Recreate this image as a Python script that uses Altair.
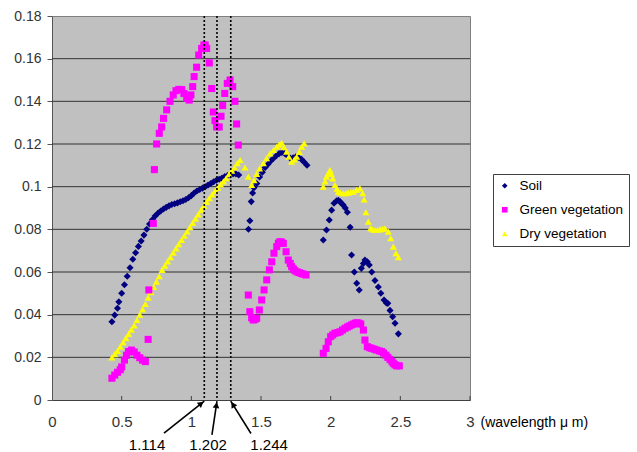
import math
import altair as alt
import pandas as pd

# ---------------- data ----------------
soil_x = [0.43, 0.45, 0.47, 0.48, 0.50, 0.52, 0.54, 0.56, 0.58, 0.60, 0.62, 0.64, 0.66, 0.68, 0.70,
          0.72, 0.74, 0.76, 0.78, 0.80, 0.82, 0.84, 0.86, 0.88, 0.90, 0.92, 0.94, 0.96, 0.98, 1.00,
          1.02, 1.04, 1.06, 1.08, 1.10, 1.12, 1.14, 1.16, 1.18, 1.20, 1.22, 1.24, 1.26, 1.28, 1.30,
          1.32, 1.34,
          1.41, 1.42, 1.43, 1.44, 1.45, 1.47, 1.49, 1.51, 1.53, 1.55, 1.57, 1.59, 1.61, 1.63, 1.65,
          1.67, 1.69, 1.71, 1.73, 1.75, 1.77, 1.79, 1.81, 1.83,
          1.947, 1.97, 1.99, 2.007, 2.024, 2.043, 2.055, 2.067, 2.08, 2.09, 2.105, 2.12, 2.14, 2.15,
          2.17, 2.187, 2.205, 2.22, 2.235, 2.246, 2.263, 2.277, 2.295, 2.318, 2.342, 2.36, 2.383,
          2.40, 2.41, 2.426, 2.445, 2.462, 2.486]
soil_y = [0.0367, 0.0398, 0.043, 0.046, 0.050, 0.054, 0.058, 0.062, 0.066, 0.069, 0.072, 0.0745, 0.0773, 0.080, 0.0825,
          0.0845, 0.0862, 0.0875, 0.0886, 0.0895, 0.0903, 0.091, 0.0916, 0.092, 0.0924, 0.0929, 0.0934, 0.094, 0.0948, 0.0958,
          0.097, 0.098, 0.0987, 0.0993, 0.100, 0.1008, 0.1015, 0.1023, 0.103, 0.1035, 0.104, 0.1047, 0.1052, 0.1055, 0.106,
          0.106, 0.1055,
          0.080, 0.084, 0.093, 0.097, 0.0995, 0.1015, 0.1045, 0.1068, 0.109, 0.1105, 0.112, 0.1133, 0.1145, 0.1155, 0.116,
          0.1156, 0.1145, 0.1133, 0.1135, 0.114, 0.1137, 0.1128, 0.1115, 0.110,
          0.075, 0.0797, 0.0844, 0.089, 0.0922, 0.0934, 0.0936, 0.093, 0.092, 0.0914, 0.090, 0.088, 0.081, 0.068,
          0.060, 0.0547, 0.0516, 0.0617, 0.064, 0.0656, 0.0648, 0.0633, 0.060, 0.056, 0.053, 0.050, 0.0469,
          0.0455, 0.0453, 0.042, 0.039, 0.036, 0.031]

green_x = [0.43, 0.45, 0.47, 0.49, 0.50, 0.52, 0.535, 0.55, 0.57, 0.59, 0.61, 0.63, 0.65, 0.67, 0.69,
           0.695, 0.727, 0.735, 0.751, 0.77, 0.787, 0.80, 0.823, 0.847, 0.87, 0.89, 0.91, 0.93, 0.947,
           0.967, 0.985, 0.997, 1.01, 1.02, 1.038, 1.053, 1.074, 1.09, 1.10, 1.11, 1.129, 1.146, 1.158,
           1.17, 1.182, 1.20, 1.213, 1.225, 1.24, 1.258, 1.278, 1.297, 1.313, 1.325, 1.337,
           1.409, 1.42, 1.433, 1.445, 1.457, 1.469, 1.488, 1.505, 1.522, 1.541, 1.56, 1.577, 1.593,
           1.613, 1.625, 1.636, 1.648, 1.66, 1.68, 1.696, 1.71, 1.72, 1.732, 1.744, 1.76, 1.775, 1.79,
           1.804, 1.823,
           1.947, 1.967, 1.983, 2.00, 2.015, 2.031, 2.05, 2.067, 2.085, 2.103, 2.12, 2.134, 2.15, 2.163,
           2.177, 2.19, 2.203, 2.216, 2.235, 2.246, 2.263, 2.28, 2.295, 2.313, 2.33, 2.35, 2.366, 2.38,
           2.397, 2.41, 2.426, 2.44, 2.45, 2.462, 2.474, 2.493]
green_y = [0.0102, 0.0117, 0.013, 0.0142, 0.0155, 0.0187, 0.021, 0.0227, 0.0234, 0.0225, 0.021, 0.0198, 0.0187, 0.018, 0.0284,
           0.0516, 0.0828, 0.108, 0.120, 0.125, 0.128, 0.132, 0.136, 0.140, 0.143, 0.145, 0.1456, 0.1455, 0.1437,
           0.1414, 0.1406, 0.143, 0.1469, 0.1516, 0.156, 0.1617, 0.1648, 0.1664, 0.1664, 0.1648, 0.158, 0.146, 0.135,
           0.131, 0.128, 0.128, 0.133, 0.138, 0.1437, 0.1484, 0.150, 0.1469, 0.140, 0.1294, 0.1195,
           0.0492, 0.0414, 0.0385, 0.0375, 0.0378, 0.0383, 0.0422, 0.0469, 0.0516, 0.0563, 0.061, 0.0648, 0.0688,
           0.0719, 0.0735, 0.0742, 0.074, 0.0734, 0.0695, 0.0656, 0.064, 0.0625, 0.0615, 0.0606, 0.060, 0.0597, 0.0593,
           0.059, 0.0586,
           0.0219, 0.0242, 0.0273, 0.0297, 0.0305, 0.0313, 0.0316, 0.032, 0.0328, 0.0336, 0.0342, 0.0347, 0.0352, 0.0356,
           0.036, 0.0362, 0.036, 0.0356, 0.0328, 0.0281, 0.025, 0.0245, 0.0242, 0.0238, 0.0234, 0.023, 0.0227, 0.022,
           0.021, 0.020, 0.019, 0.018, 0.0172, 0.0165, 0.016, 0.016]

dry_x = [0.43, 0.45, 0.47, 0.49, 0.51, 0.53, 0.55, 0.57, 0.59, 0.61, 0.63, 0.65, 0.67, 0.69, 0.71,
         0.73, 0.75, 0.77, 0.79, 0.81, 0.83, 0.85, 0.87, 0.89, 0.91, 0.93, 0.95, 0.97, 0.99, 1.01,
         1.03, 1.05, 1.07, 1.09, 1.11, 1.13, 1.15, 1.17, 1.19, 1.21, 1.23, 1.25, 1.27, 1.29, 1.31,
         1.33, 1.35,
         1.385, 1.409, 1.433, 1.45, 1.469, 1.49, 1.517, 1.54, 1.565, 1.59, 1.613, 1.63, 1.648, 1.665,
         1.684, 1.70, 1.72, 1.74, 1.756, 1.775, 1.792, 1.81,
         1.947, 1.96, 1.97, 1.983, 1.995, 2.005, 2.015, 2.031, 2.045, 2.055, 2.07, 2.09, 2.11, 2.127,
         2.145, 2.163, 2.185, 2.21, 2.23, 2.24, 2.253, 2.27, 2.287, 2.30, 2.318, 2.336, 2.354, 2.372,
         2.39, 2.414, 2.431, 2.45, 2.469, 2.486]
dry_y = [0.020, 0.0215, 0.023, 0.025, 0.027, 0.029, 0.031, 0.033, 0.035, 0.0375, 0.040, 0.0425, 0.045, 0.048, 0.0505,
         0.053, 0.0555, 0.058, 0.061, 0.063, 0.065, 0.067, 0.069, 0.071, 0.073, 0.075, 0.077, 0.079, 0.081, 0.083,
         0.085, 0.087, 0.089, 0.091, 0.0928, 0.0946, 0.0964, 0.098, 0.0995, 0.101, 0.1025, 0.104, 0.1058, 0.1075, 0.109,
         0.111, 0.1125,
         0.109, 0.1047, 0.1008, 0.103, 0.106, 0.1085, 0.111, 0.1133, 0.1156, 0.1172, 0.1187, 0.1197, 0.1206, 0.1185,
         0.1164, 0.114, 0.1117, 0.1128, 0.114, 0.1163, 0.1187, 0.1203,
         0.100, 0.1025, 0.1047, 0.1063, 0.1078, 0.106, 0.1039, 0.1008, 0.099, 0.0977, 0.0972, 0.0969, 0.097, 0.0972,
         0.0975, 0.0977, 0.0985, 0.0992, 0.0969, 0.094, 0.088, 0.0836, 0.0805, 0.080, 0.0797, 0.0798, 0.080, 0.0802,
         0.0805, 0.0789, 0.0758, 0.0719, 0.0688, 0.0669]

series_names = ["Soil", "Green vegetation", "Dry vegetation"]
series_colors = ["#000080", "#FF00FF", "#FFFF00"]
series_shapes = ["diamond", "square", "triangle-up"]

x_ticks = [0, 0.5, 1, 1.5, 2, 2.5, 3]
y_ticks = [0, 0.02, 0.04, 0.06, 0.08, 0.1, 0.12, 0.14, 0.16, 0.18]
grid_values = [0.02, 0.04, 0.06, 0.08, 0.1, 0.12, 0.14, 0.16]

# marked wavelengths: dashed line positions as drawn, and their labels
line_x = [1.093, 1.184, 1.283]
line_labels = ["1.114", "1.202", "1.244"]
label_x = [0.682, 1.12, 1.558]
label_y = [-0.0211, -0.0211, -0.0211]
tail_x = [0.804, 1.148, 1.428]
tail_y = [-0.0155, -0.0164, -0.0157]
tip_y = [-0.0005, -0.0005, -0.0005]

# ---------------- chart ----------------
W, H = 418, 384
XMAX, YMAX = 3.0, 0.18
sx, sy = W / XMAX, H / YMAX
FONT = "Liberation Sans"

rows = []
for name, xs, ys in [("Soil", soil_x, soil_y), ("Dry vegetation", dry_x, dry_y),
                     ("Green vegetation", green_x, green_y)]:
    rows += [{"wl": a, "r": b, "series": name} for a, b in zip(xs, ys)]
df = pd.DataFrame(rows)
df["o"] = range(len(df))

x_scale = alt.Scale(domain=[0, XMAX], nice=False, zero=False)
y_scale = alt.Scale(domain=[0, YMAX], nice=False, zero=False)

legend = alt.Legend(title=None, orient="none", legendX=441, legendY=158, fillColor="white",
                    strokeColor="#404040", padding=5, rowPadding=9, labelFontSize=13.5,
                    labelFont=FONT, labelColor="black", symbolSize=32, labelOffset=8,
                    symbolStrokeWidth=0)

points = alt.Chart(df).mark_point(filled=True, size=50, opacity=1, strokeWidth=0).encode(
    x=alt.X("wl:Q", scale=x_scale,
            axis=alt.Axis(values=x_ticks, format="~g", grid=False, ticks=False, labelPadding=14,
                          labelFontSize=15, labelFont=FONT, labelColor="#333", labelFlush=False,
                          domainColor="#404040", title="(wavelength \u03bc m)", titleX=428, titleY=22,
                          titleAlign="left", titleBaseline="middle", titleFontWeight="normal",
                          titleFontSize=14, titleFont=FONT, titleColor="black", titleAnchor="start")),
    y=alt.Y("r:Q", scale=y_scale,
            axis=alt.Axis(values=y_ticks, format="~g", grid=False, ticks=True, tickSize=5,
                          tickColor="#555", labelPadding=6, labelFontSize=14, labelFont=FONT,
                          labelColor="#333", domainColor="#555", title=None, labelFlush=False)),
    color=alt.Color("series:N", scale=alt.Scale(domain=series_names, range=series_colors), legend=legend),
    shape=alt.Shape("series:N", scale=alt.Scale(domain=series_names, range=series_shapes), legend=legend),
    order=alt.Order("o:Q"),
)

grid = alt.Chart(pd.DataFrame({"g": grid_values})).mark_rule(color="#333", strokeWidth=1).encode(
    y=alt.Y("g:Q", scale=y_scale))

inner_ticks = alt.Chart(pd.DataFrame({"t": x_ticks[1:]})).mark_rule(color="#404040").encode(
    x=alt.X("t:Q", scale=x_scale), y=alt.value(H), y2=alt.value(H - 4))

dashed = alt.Chart(pd.DataFrame({"lx": line_x})).mark_rule(
    color="black", strokeDash=[2, 2], strokeWidth=1.6).encode(x=alt.X("lx:Q", scale=x_scale))

# arrow geometry
arr = []
for tx, ty, hx, hy in zip(tail_x, tail_y, line_x, tip_y):
    dxp, dyp = (hx - tx) * sx, -(hy - ty) * sy
    L = math.hypot(dxp, dyp)
    ux, uy = dxp / L, dyp / L
    back = 4.0
    cx, cy = hx - ux * back / sx, hy + uy * back / sy
    ang = math.degrees(math.atan2(ux, -uy)) % 360
    arr.append({"tx": tx, "ty": ty, "hx": hx, "hy": hy, "cx": cx, "cy": cy, "ang": ang})
arr_df = pd.DataFrame(arr)

arrow_lines = alt.Chart(arr_df).mark_rule(color="black", strokeWidth=1.6).encode(
    x=alt.X("tx:Q", scale=x_scale), y=alt.Y("ty:Q", scale=y_scale),
    x2="hx:Q", y2="hy:Q")
arrow_heads = alt.Chart(arr_df).mark_point(shape="triangle-up", filled=True, color="black",
                                           size=45, opacity=1, strokeWidth=0).encode(
    x=alt.X("cx:Q", scale=x_scale), y=alt.Y("cy:Q", scale=y_scale), angle=alt.Angle("ang:Q", scale=None))

labels = alt.Chart(pd.DataFrame({"lx": label_x, "ly": label_y, "t": line_labels})).mark_text(
    font=FONT, fontSize=15, color="black", align="center", baseline="middle").encode(
    x=alt.X("lx:Q", scale=x_scale), y=alt.Y("ly:Q", scale=y_scale), text="t:N")

chart = alt.layer(grid, inner_ticks, points, dashed, arrow_lines, arrow_heads, labels).properties(
    width=W, height=H,
    autosize=alt.AutoSizeParams(type="none"),
    padding={"left": 52, "top": 16, "right": 167, "bottom": 52},
    background="white",
).configure_view(fill="#C0C0C0", stroke="#808080", strokeWidth=1)

chart.save("out.html", embed_options={"renderer": "svg", "actions": False})
